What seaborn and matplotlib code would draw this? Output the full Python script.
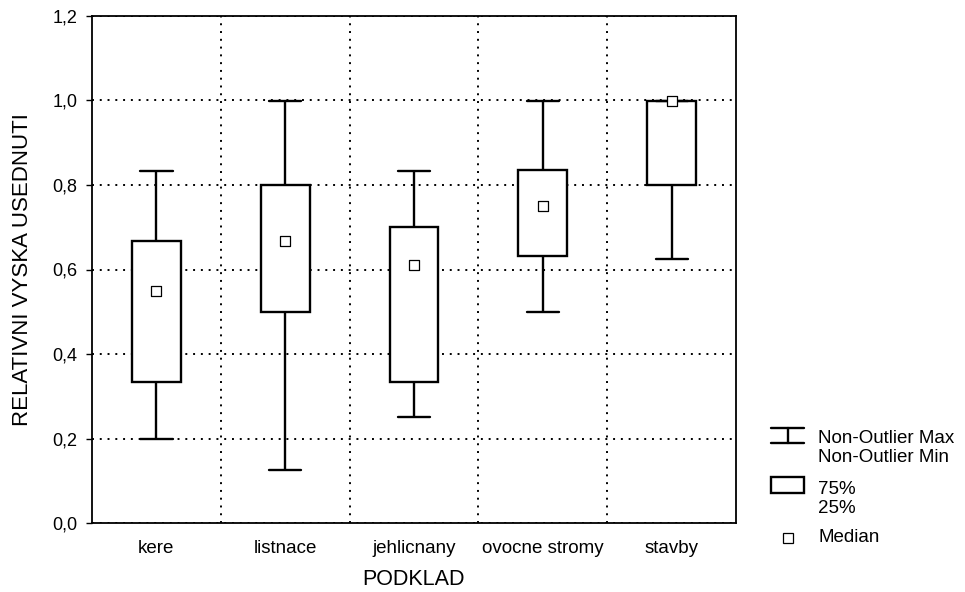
import numpy as np
import pandas as pd
import matplotlib
matplotlib.use("Agg")
import matplotlib.pyplot as plt
from matplotlib.lines import Line2D
from matplotlib.patches import Rectangle
from matplotlib.ticker import FuncFormatter, MultipleLocator, FixedLocator
import seaborn as sns

# Five-number summaries of relative settling height per substrate type
categories = ["kere", "listnace", "jehlicnany", "ovocne stromy", "stavby"]
q_min = [0.200, 0.125, 0.250, 0.500, 0.625]
q_25 = [0.333, 0.500, 0.333, 0.633, 0.800]
q_50 = [0.550, 0.667, 0.611, 0.750, 1.000]
q_75 = [0.667, 0.800, 0.700, 0.835, 1.000]
q_max = [0.833, 1.000, 0.833, 1.000, 1.000]

x_label = "PODKLAD"
y_label = "RELATIVNI VYSKA USEDNUTI"
legend_labels = ["Non-Outlier Max\nNon-Outlier Min", "75%\n25%", "Median"]

# Long-form table: each group carries its own min / quartiles / max, so the
# box statistics (linear percentiles, whiskers over the full range) reproduce them.
rows = []
for c, a, b, m, d, e in zip(categories, q_min, q_25, q_50, q_75, q_max):
    for v in (a, b, m, d, e):
        rows.append({x_label: c, "value": v})
df = pd.DataFrame(rows)
med = pd.DataFrame({x_label: categories, "median": q_50})

sns.set_style("white")
plt.rcParams["font.family"] = ["Liberation Sans", "DejaVu Sans"]

W, H = 965, 592
fig = plt.figure(figsize=(W / 100, H / 100), dpi=100)
ax = fig.add_axes([92 / W, 1 - 523 / H, (736 - 92) / W, (523 - 16) / H])

dot = (0, (1, 3))
ax.set_axisbelow(True)

sns.boxplot(
    data=df, x=x_label, y="value", order=categories,
    whis=(0, 100), width=0.38, color="white", linecolor="black",
    linewidth=1.7, fliersize=0, capwidths=0.25,
    medianprops=dict(visible=False), ax=ax,
)
sns.stripplot(
    data=med, x=x_label, y="median", order=categories, jitter=False,
    marker="s", size=7, color="white", edgecolor="black", linewidth=0.9,
    zorder=6, ax=ax,
)

ax.set_xlim(-0.5, len(categories) - 0.5)
ax.set_ylim(0, 1.2)
ax.yaxis.set_major_locator(MultipleLocator(0.2))
ax.yaxis.set_major_formatter(FuncFormatter(lambda v, p: f"{v:.1f}".replace(".", ",")))
ax.xaxis.set_minor_locator(FixedLocator(np.arange(0.5, len(categories) - 1, 1.0)))

ax.grid(False)
ax.yaxis.grid(True, which="major", color="black", linestyle=dot, linewidth=1.4)
ax.xaxis.grid(True, which="minor", color="black", linestyle=dot, linewidth=1.4)

for s in ax.spines.values():
    s.set_visible(True)
    s.set_color("black")
    s.set_linewidth(1.3)

ax.tick_params(axis="y", which="major", direction="out", length=4.5, width=1.0,
               color="black", left=True, labelsize=13, pad=6)
ax.tick_params(axis="x", which="both", length=0, labelsize=13.5, pad=12)
for t in ax.get_xticklabels() + ax.get_yticklabels():
    t.set_color("black")

ax.set_xlabel(x_label, fontsize=15.5, labelpad=9, color="black")
ax.set_ylabel(y_label, fontsize=16, labelpad=14, color="black")


# Legend drawn in figure pixel coordinates to the right of the axes
def fp(x, y):
    return x / W, 1 - y / H


lk = dict(color="black", linewidth=1.7, transform=fig.transFigure)
x0, x1 = 771, 804
fig.add_artist(Line2D(*zip(fp(x0, 428), fp(x1, 428)), **lk))
fig.add_artist(Line2D(*zip(fp(x0, 443), fp(x1, 443)), **lk))
fig.add_artist(Line2D(*zip(fp(787.5, 428), fp(787.5, 443)), **lk))
fig.add_artist(Rectangle(fp(x0, 493), (x1 - x0) / W, 16 / H, facecolor="white",
                         edgecolor="black", linewidth=1.7, transform=fig.transFigure))
fig.add_artist(Line2D([fp(788, 537.5)[0]], [fp(788, 537.5)[1]], marker="s",
                      markersize=7, markerfacecolor="white", markeredgecolor="black",
                      markeredgewidth=0.9, linestyle="none", transform=fig.transFigure))

ty = [448, 499, 538]
for lab, y in zip(legend_labels, ty):
    fig.text(*fp(818, y), lab, fontsize=13.5, va="center", ha="left",
             color="black", linespacing=1.2)

fig.savefig("out.png", dpi=100)
